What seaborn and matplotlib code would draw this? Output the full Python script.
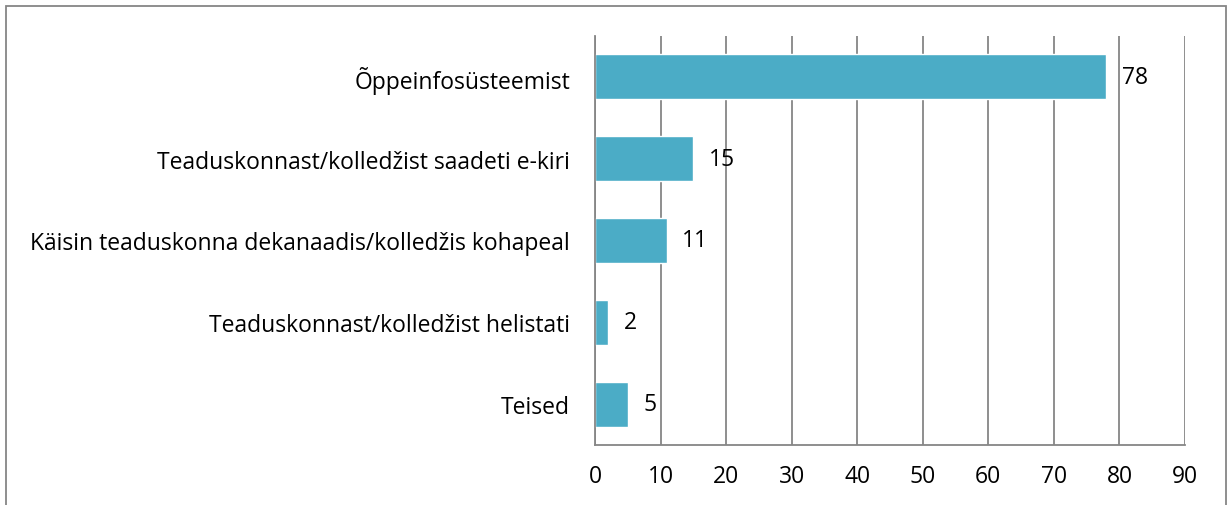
import matplotlib
matplotlib.use("Agg")
import matplotlib.pyplot as plt
import seaborn as sns
import pandas as pd
from matplotlib.patches import Rectangle

# data
categories = [
    "Õppeinfosüsteemist",
    "Teaduskonnast/kolledžist saadeti e-kiri",
    "Käisin teaduskonna dekanaadis/kolledžis kohapeal",
    "Teaduskonnast/kolledžist helistati",
    "Teised",
]
values = [78, 15, 11, 2, 5]
x_ticks = list(range(0, 100, 10))

df = pd.DataFrame({"category": categories, "value": values})

sns.set_style("white")
plt.rcParams["font.family"] = ["Open Sans", "DejaVu Sans"]

fig = plt.figure(figsize=(12.28, 5.06), dpi=100)
ax = fig.add_axes([595 / 1228, 60 / 506, 590 / 1228, 409 / 506])

sns.barplot(data=df, y="category", x="value", orient="h", color="#4BACC6",
            saturation=1, width=0.55, ax=ax)

ax.set_xlim(0, 90)
ax.set_xticks(x_ticks)
ax.set_ylim(4.5, -0.5)
ax.xaxis.grid(True, color="#868686", linewidth=1.3)
ax.set_axisbelow(True)
ax.set_xlabel("")
ax.set_ylabel("")
for s in ["top", "right"]:
    ax.spines[s].set_visible(False)
ax.spines["left"].set_color("#868686")
ax.spines["bottom"].set_color("#868686")
ax.spines["left"].set_linewidth(1.3)
ax.spines["bottom"].set_linewidth(1.3)
ax.tick_params(axis="both", length=0, labelsize=16.5, colors="black")
ax.tick_params(axis="x", pad=14)
ax.tick_params(axis="y", pad=18)

for i, v in enumerate(values):
    ax.annotate(str(v), xy=(v, i), xytext=(11, 0), textcoords="offset points",
                va="center", ha="left", fontsize=16.5, color="black")

# outer frame like the source chart
fig.patches.append(Rectangle((6 / 1228, -0.1), 1220 / 1228, 1.1 - 7 / 506,
                             transform=fig.transFigure, fill=False,
                             edgecolor="#868686", linewidth=1.3))

fig.savefig("out.png", dpi=100)
